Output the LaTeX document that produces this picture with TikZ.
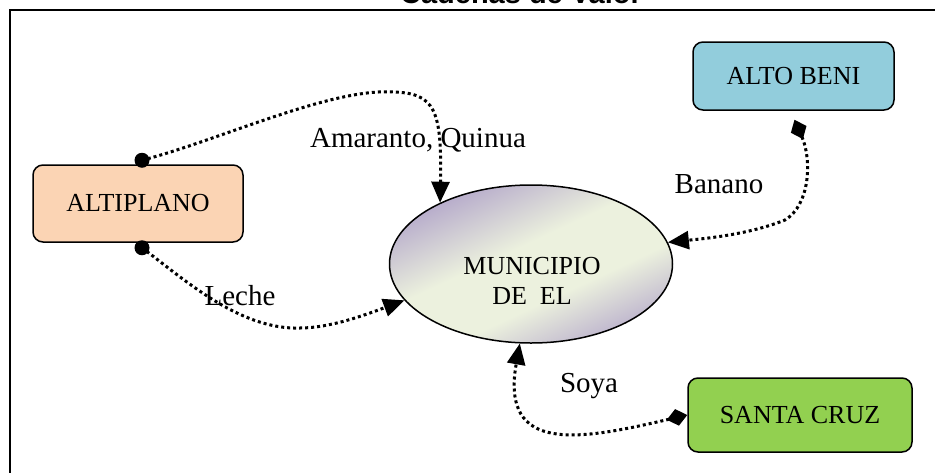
\documentclass[tikz,border=0pt]{standalone}
\usepackage{fontspec}
\setmainfont{Liberation Serif}
\newfontfamily\titlefont{Liberation Sans}
\usetikzlibrary{shapes.geometric,arrows.meta,calc}
\definecolor{peach}{HTML}{FBD4B4}
\definecolor{skyb}{HTML}{92CDDC}
\definecolor{limeg}{HTML}{92D050}
\definecolor{lav}{RGB}{180,168,202}
\definecolor{pale}{RGB}{236,241,222}
\pgfdeclarehorizontalshading{ellgrad}{100bp}{color(0bp)=(lav); color(25bp)=(lav); color(45bp)=(pale); color(60bp)=(pale); color(75bp)=(lav!85!pale); color(100bp)=(lav!85!pale)}
\tikzset{
  region/.style={draw, line width=1.5pt, rounded corners=10pt, inner sep=0pt,
    font=\fontsize{26}{30}\selectfont},
  flow/.style={line width=3pt, dash pattern=on 3pt off 3pt},
  lbl/.style={anchor=base, inner sep=0pt, font=\fontsize{29}{34}\selectfont},
  tipA/.style={-{Triangle[length=21pt,width=18pt]}},
  tipD/.style={{Diamond[length=21pt,width=17pt]}-{Triangle[length=21pt,width=18pt]}},
}
\begin{document}
\begin{tikzpicture}[x=1pt,y=-1pt]
\useasboundingbox (0,0) rectangle (935,472);
% frame and title
\draw[line width=2pt] (9.5,480) -- (9.5,9.5) -- (945,9.5);
\node[anchor=base, inner sep=0pt, font=\titlefont\bfseries\fontsize{29}{34}\selectfont] (title) at (521,3) {Cadenas de Valor};
% central ellipse
\node[ellipse, draw, line width=1.5pt, minimum width=283pt, minimum height=158pt, inner sep=0pt,
      shading=ellgrad, shading angle=-65] (mun) at (531,264) {};
\node[align=center, inner sep=0pt, font=\fontsize{26}{30}\selectfont] (munt) at (532,281) {MUNICIPIO\\DE~~EL};
% regions
\node[region, fill=peach, minimum width=210pt, minimum height=77pt] (alt) at (138,203.5) {ALTIPLANO};
\node[region, fill=skyb, minimum width=201pt, minimum height=68pt] (ab) at (793.5,76) {ALTO BENI};
\node[region, fill=limeg, minimum width=224pt, minimum height=74pt] (sc) at (800,415) {SANTA CRUZ};
% connector end points
\coordinate (altT) at ($(alt.north)+(4,-4)$);
\coordinate (altB) at ($(alt.south)+(4,5)$);
\coordinate (abS) at ($(ab.south)+(1,9)$);
% connectors
\draw[flow, tipA] (altT) .. controls (220,140) and (330,88) .. (393,92)
      .. controls (435,93) and (442,110) .. (mun.146);
\draw[flow, tipA] (altB) .. controls (185,280) and (240,330) .. (300,328)
      .. controls (330,328) and (365,315) .. (mun.196);
\draw[flow, tipD] (abS) .. controls (812,160) and (810,205) .. (785,220)
      .. controls (750,234) and (710,238) .. (mun.9);
\draw[flow, tipD] (sc.west) .. controls (580,440) and (500,455) .. (mun.262);
\fill (altT) circle (7.5pt);
\fill (altB) circle (7.5pt);
% labels
\node[lbl] (lam) at (418,147) {Amaranto, Quinua};
\node[lbl] (lle) at (240,305) {Leche};
\node[lbl] (lba) at (719,193) {Banano};
\node[lbl] (lso) at (589,392) {Soya};
\end{tikzpicture}
\end{document}
